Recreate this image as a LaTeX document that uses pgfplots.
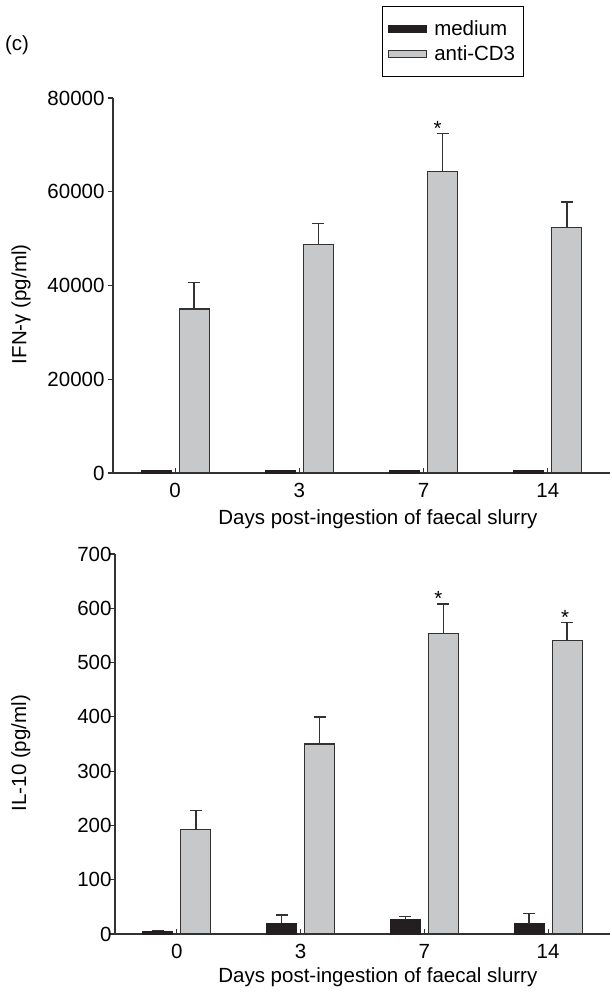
\documentclass[border=0pt]{standalone}
\usepackage{pgfplots}
\pgfplotsset{compat=1.18}
\usepackage{fontspec}
\setmainfont{Liberation Sans}
\definecolor{barg}{RGB}{199,200,202}
\definecolor{edge}{RGB}{50,50,50}
\definecolor{blk}{RGB}{35,31,32}
\newcommand\ff{\fontsize{20.5bp}{24bp}\selectfont}
\begin{document}
\begin{tikzpicture}[font=\ff]
\useasboundingbox (0,0) rectangle (612bp,-993bp);
\pgfplotsset{
 mystyle/.style={
  scale only axis,
  axis lines=left,
  axis line style={-, line width=1.2bp, edge},
  every tick/.style={line width=1.1bp, edge},
  major tick length=5bp,
  xtick align=inside,
  ytick align=outside,
  xmin=-0.5, xmax=3.5, ymin=0,
  xtick={0,1,2,3}, xticklabels={0,3,7,14},
  xticklabel style={yshift=-7bp},
  enlargelimits=false,
  scaled y ticks=false,
  /pgf/number format/1000 sep={},
  /pgf/number format/assume math mode=true,
  xlabel={Days post-ingestion of faecal slurry},
  tick label style={font=\ff},
  label style={font=\ff},
 },
 medbar/.style={ybar, bar width=30bp, bar shift=-19bp, fill=blk, draw=blk, line width=1bp,
   legend image code/.code={\draw[fill=blk, draw=blk, line width=1bp] (0bp,-3.5bp) rectangle (38bp,3.5bp);}},
 antibar/.style={ybar, bar width=30bp, bar shift=19bp, fill=barg, draw=edge, line width=1.2bp,
   legend image code/.code={\draw[fill=barg, draw=edge, line width=1bp] (0bp,-3.5bp) rectangle (38bp,3.5bp);}},
 errs/.style={error bars/.cd, y dir=plus, y explicit,
   error bar style={line width=1.3bp, edge, xshift=#1},
   error mark options={line width=1.3bp, mark size=6bp, edge, rotate=90}},
}
\node at (17bp,-45bp) {(c)};
% top panel
\begin{axis}[mystyle,
  at={(113bp,-473bp)}, anchor=south west,
  width=497bp, height=375bp,
  ymax=80000, ytick={0,20000,40000,60000,80000},
  ylabel={IFN-γ (pg/ml)},
  ylabel style={at={(axis description cs:-0.185,0.45)}, anchor=center},
  xlabel style={at={(axis description cs:0.533,-0.123)}, anchor=center},
  legend style={at={(rel axis cs:0.541,1.245)}, anchor=north west, draw=black, line width=0.8bp,
     font=\ff, row sep=5bp, inner xsep=6bp, inner ysep=12bp, legend cell align=left,
     /tikz/every odd column/.append style={column sep=5bp}},
]
\addplot[medbar] coordinates {(0,500) (1,500) (2,500) (3,500)};
\addlegendentry{medium}
\addplot[antibar, errs=19bp] coordinates {(0,35000) +- (0,5700) (1,48700) +- (0,4500) (2,64400) +- (0,8100) (3,52300) +- (0,5500)};
\addlegendentry{anti-CD3}
\node[anchor=base] at (axis cs:2,72500) [xshift=14bp, yshift=-2bp] {*};
\end{axis}
% bottom panel
\begin{axis}[mystyle,
  at={(115bp,-934bp)}, anchor=south west,
  width=495bp, height=380bp,
  ymax=700, ytick={0,100,...,700},
  yticklabel style={xshift=5bp},
  ylabel={IL-10 (pg/ml)},
  ylabel style={at={(axis description cs:-0.19,0.476)}, anchor=center},
  xlabel style={at={(axis description cs:0.531,-0.113)}, anchor=center},
]
\addplot[medbar, errs=-19bp] coordinates {(0,5) +- (0,2) (1,20) +- (0,15) (2,26) +- (0,6) (3,19) +- (0,19)};
\addplot[antibar, errs=19bp] coordinates {(0,193) +- (0,35) (1,350) +- (0,50) (2,554) +- (0,54) (3,541) +- (0,33)};
\node[anchor=base] at (axis cs:2,608) [xshift=14bp, yshift=-2bp] {*};
\node[anchor=base] at (axis cs:3,574) [xshift=17bp, yshift=-2bp] {*};
\end{axis}
\end{tikzpicture}
\end{document}
